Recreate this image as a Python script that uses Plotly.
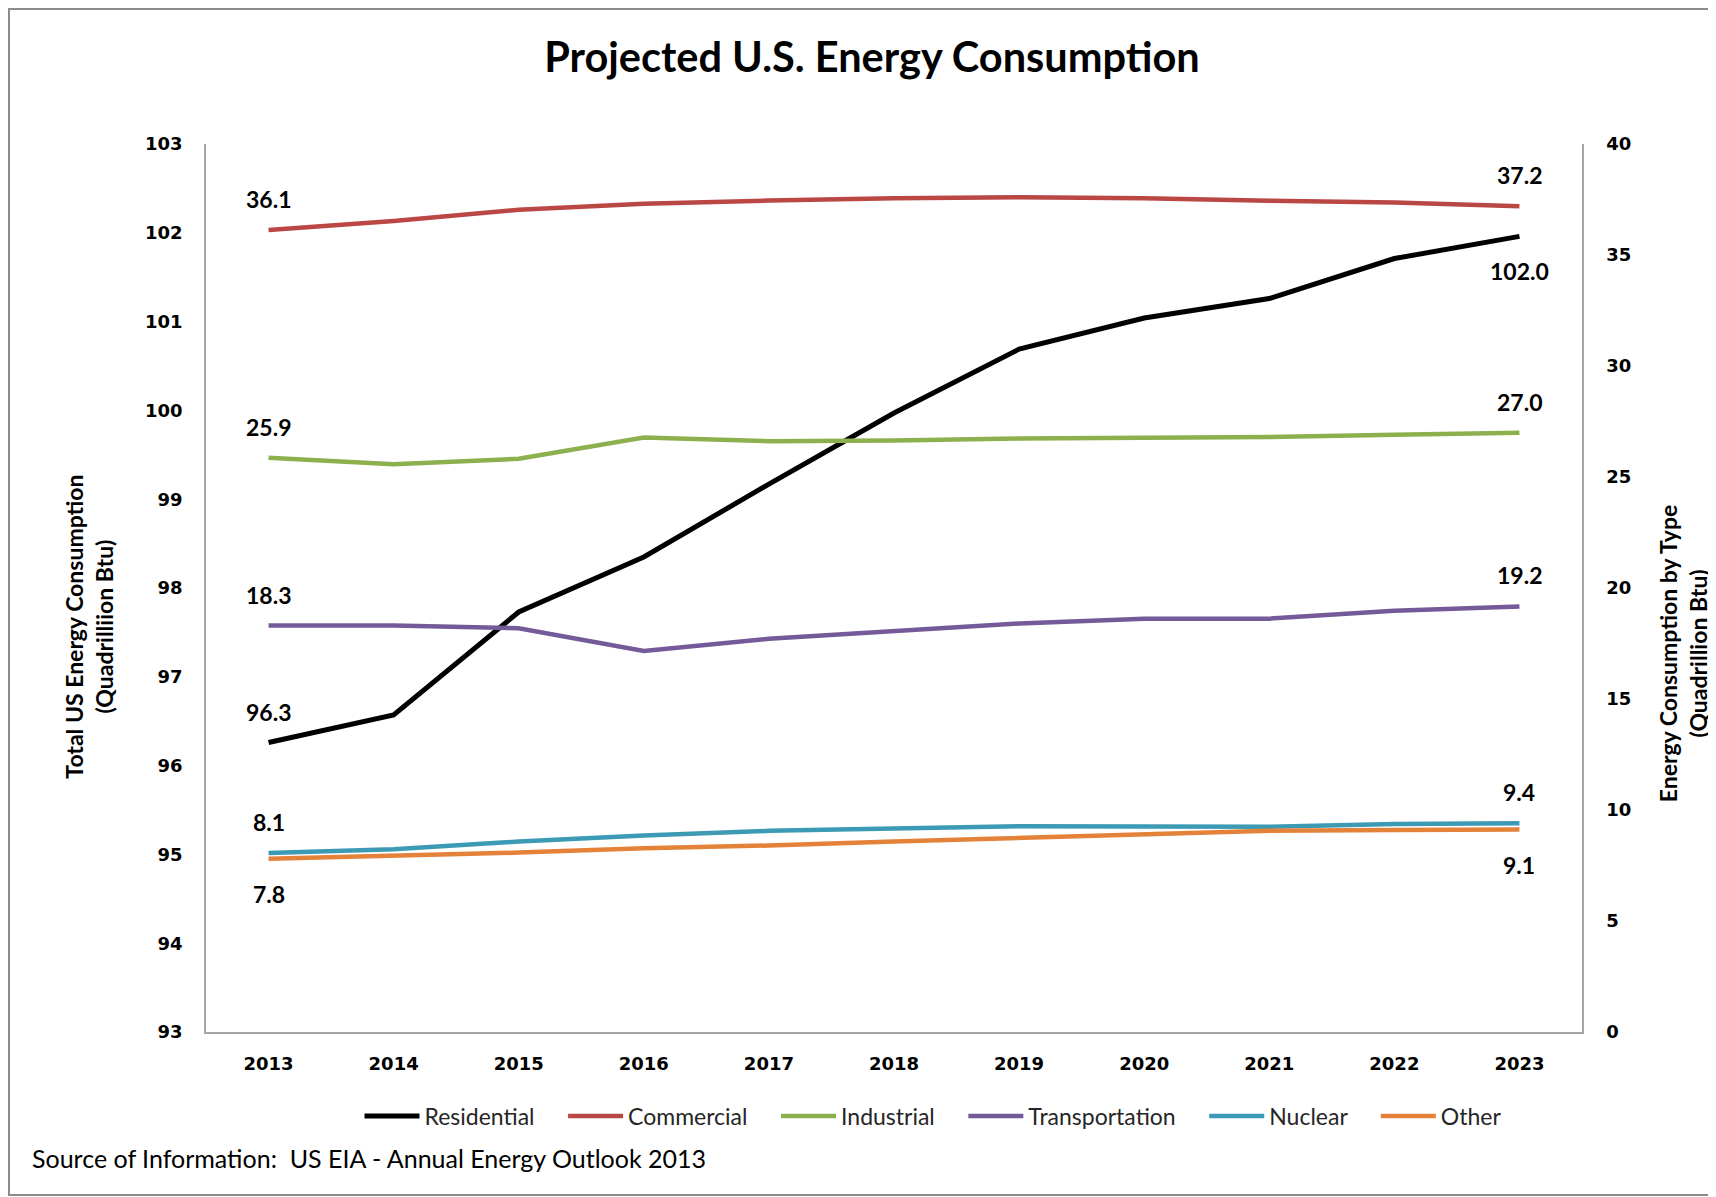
import plotly.graph_objects as go

years = ["2013", "2014", "2015", "2016", "2017", "2018", "2019", "2020", "2021", "2022", "2023"]
residential = [96.26, 96.57, 97.73, 98.35, 99.17, 99.97, 100.69, 101.04, 101.26, 101.71, 101.96]
commercial = [36.13, 36.53, 37.04, 37.31, 37.45, 37.56, 37.6, 37.56, 37.44, 37.37, 37.2]
industrial = [25.87, 25.57, 25.82, 26.78, 26.61, 26.64, 26.73, 26.74, 26.8, 26.9, 26.99]
transportation = [18.31, 18.31, 18.19, 17.16, 17.71, 18.05, 18.4, 18.62, 18.62, 18.97, 19.17]
nuclear = [8.06, 8.23, 8.58, 8.85, 9.06, 9.19, 9.27, 9.26, 9.24, 9.37, 9.4]
other = [7.8, 7.93, 8.08, 8.28, 8.4, 8.58, 8.76, 8.92, 9.07, 9.1, 9.12]

left_ticks = list(range(93, 104))
right_ticks = list(range(0, 41, 5))

series = [
    ("Residential", residential, "#000000", "y", 5, ("up", "down")),
    ("Commercial", commercial, "#BA4744", "y2", 4.5, ("up", "up")),
    ("Industrial", industrial, "#8DB04F", "y2", 4.5, ("up", "up")),
    ("Transportation", transportation, "#755A9A", "y2", 4.5, ("up", "up")),
    ("Nuclear", nuclear, "#3D9AB4", "y2", 4.5, ("up", "up")),
    ("Other", other, "#E4823A", "y2", 4.5, ("down", "down")),
]

# page body has an 8px margin; compensate so the picture aligns with the reference
OFF = 8
PL, PT, PW, PH = 206 - OFF, 144 - OFF, 1376, 888
W, H = 1716, 1197

fig = go.Figure()
annotations = []
for i, (name, vals, color, yax, w, pos) in enumerate(series):
    label = name if i == len(series) - 1 else name + "&nbsp;" * 4
    fig.add_trace(go.Scatter(x=years, y=vals, name=label, mode="lines", yaxis=yax,
                             line=dict(color=color, width=w)))
    for idx, p in zip((0, len(vals) - 1), pos):
        annotations.append(dict(
            x=idx, y=vals[idx], xref="x", yref=yax, text=f"<b>{vals[idx]:.1f}</b>",
            showarrow=False, yshift=31 if p == "up" else -35,
            font=dict(family="Lato", size=23, color="#000000")))

# axis titles and source note
annotations.append(dict(x=(81 * 1716 / 1568 - 206) / PW, y=(1032 - 627) / PH, xref="paper", yref="paper",
                        xanchor="center", yanchor="middle",
                        text="<b>Total US Energy Consumption<br>(Quadrilliion Btu)</b>", textangle=-90,
                        showarrow=False, font=dict(family="Lato", size=23, color="#000000")))
annotations.append(dict(x=(1538 * 1716 / 1568 - 206) / PW, y=(1032 - 654) / PH, xref="paper", yref="paper",
                        xanchor="center", yanchor="middle",
                        text="<b>Energy Consumption by Type<br>(Quadrillion Btu)</b>", textangle=-90,
                        showarrow=False, font=dict(family="Lato", size=23, color="#000000")))
annotations.append(dict(x=(30 - 206) / PW, y=(1032 - 1158) / PH, xref="paper", yref="paper",
                        xanchor="left", yanchor="middle",
                        text="Source of Information:  US EIA - Annual Energy Outlook 2013",
                        showarrow=False, font=dict(family="Lato", size=25, color="#000000")))

tickfont = dict(family="DejaVu Sans", size=18, color="#000000", weight="bold")

fig.update_layout(
    width=W, height=H,
    margin=dict(l=PL, r=W - PL - PW, t=PT, b=H - PT - PH, autoexpand=False),
    paper_bgcolor="white", plot_bgcolor="white",
    title=dict(text="<b>Projected U.S. Energy Consumption</b>", x=(872 - OFF) / W, xanchor="center",
               y=1 - (57 - OFF) / H, yanchor="middle",
               font=dict(family="Lato", size=41.5, color="#000000")),
    xaxis=dict(type="category", categoryorder="array", categoryarray=years, range=[-0.5, 10.5],
               showgrid=False, zeroline=False, showline=True, linecolor="#A6A6A6", linewidth=1.5,
               ticks="", ticklabelstandoff=15, tickfont=tickfont),
    yaxis=dict(range=[93, 103], tickvals=left_ticks, showgrid=False, zeroline=False,
               showline=True, linecolor="#A6A6A6", linewidth=1.5, ticks="", ticklabelstandoff=18,
               tickfont=tickfont),
    yaxis2=dict(range=[0, 40], tickvals=right_ticks, overlaying="y", side="right", showgrid=False,
                zeroline=False, showline=True, linecolor="#A6A6A6", linewidth=1.5, ticks="",
                ticklabelstandoff=19, tickfont=tickfont),
    legend=dict(orientation="h", x=(933 - 206) / PW, xanchor="center",
                y=(1032 - 1116) / PH, yanchor="middle",
                font=dict(family="Lato", size=23, color="#262626"), itemwidth=55,
                traceorder="normal"),
    annotations=annotations,
    shapes=[dict(type="rect", xref="paper", yref="paper",
                 x0=(9 - 206) / PW, x1=(1730 - 206) / PW,
                 y0=(1032 - 1195) / PH, y1=(1032 - 9) / PH,
                 line=dict(color="#8C8C8C", width=2), layer="below")],
    showlegend=True,
)

fig.write_html("out.html")
